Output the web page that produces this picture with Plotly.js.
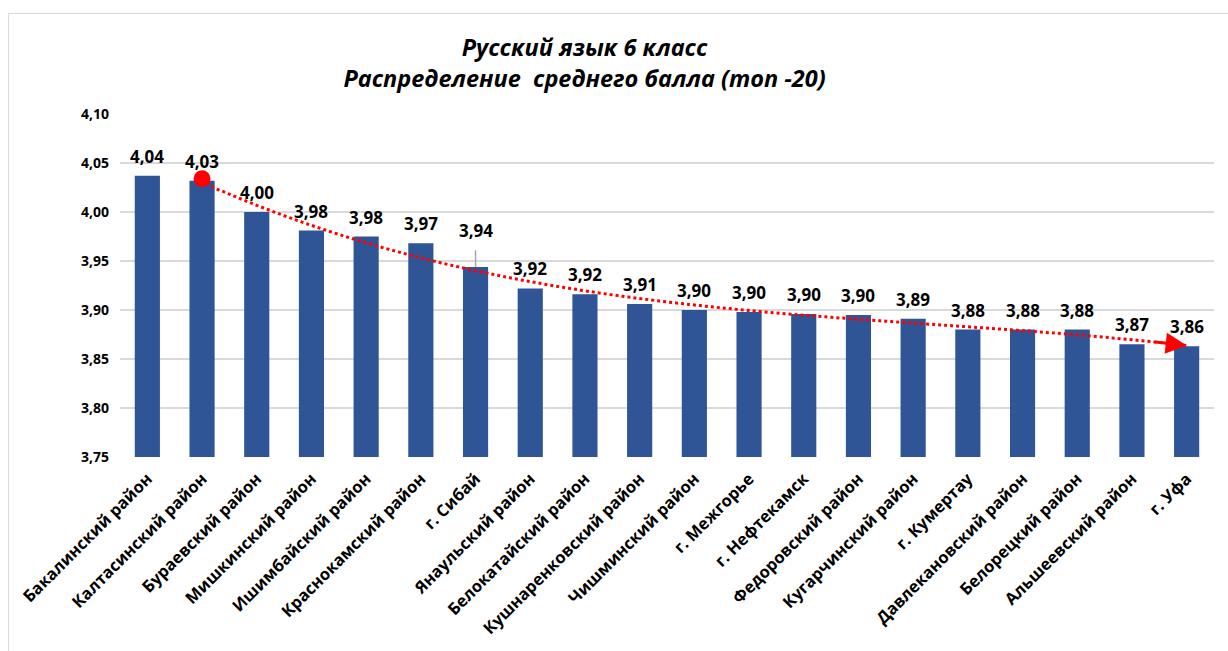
<!DOCTYPE html>
<html>
<head>
<meta charset="utf-8">
<script src="https://cdn.plot.ly/plotly-3.0.1.min.js"></script>
<style>html,body{margin:0;padding:0;background:#fff;}#wrap{position:relative;width:1228px;height:651px;overflow:hidden;}#chart{width:1228px;height:651px;}#frame{position:absolute;left:8px;top:13px;width:1240px;height:660px;border-top:1.5px solid #D9D9D9;border-left:1.5px solid #D9D9D9;pointer-events:none;}</style>
</head>
<body>
<div id="wrap"><div id="chart"></div><div id="frame"></div></div>
<script>
const categories = ["Бакалинский район","Калтасинский район","Бураевский район","Мишкинский район","Ишимбайский район","Краснокамский район","г. Сибай","Янаульский район","Белокатайский район","Кушнаренковский район","Чишминский район","г. Межгорье","г. Нефтекамск","Федоровский район","Кугарчинский район","г. Кумертау","Давлекановский район","Белорецкий район","Альшеевский район","г. Уфа"];
const scores = [4.037,4.032,4.000,3.981,3.975,3.968,3.944,3.922,3.916,3.906,3.900,3.898,3.896,3.895,3.891,3.880,3.880,3.880,3.865,3.863];
const errPlus = [0,0,0,0,0,0,0.017,0,0,0,0,0,0,0,0,0,0,0,0,0];
const titleLines = ["Русский язык 6 класс","Распределение  среднего балла (топ -20)"];
const yTicks = [3.75,3.80,3.85,3.90,3.95,4.00,4.05,4.10];

// Cubic trend fitted over bars 2..20
const tIdx = [], tVal = [];
for (let i = 1; i < scores.length; i++) { tIdx.push(i); tVal.push(scores[i]); }
function polyfit(xs, ys, deg) {
  const n = deg + 1;
  const A = Array.from({length:n}, () => new Array(n).fill(0));
  const b = new Array(n).fill(0);
  for (let k = 0; k < xs.length; k++) {
    for (let i = 0; i < n; i++) {
      b[i] += ys[k] * Math.pow(xs[k], i);
      for (let j = 0; j < n; j++) A[i][j] += Math.pow(xs[k], i + j);
    }
  }
  for (let i = 0; i < n; i++) {
    let p = i;
    for (let r = i + 1; r < n; r++) if (Math.abs(A[r][i]) > Math.abs(A[p][i])) p = r;
    [A[i], A[p]] = [A[p], A[i]]; [b[i], b[p]] = [b[p], b[i]];
    for (let r = i + 1; r < n; r++) {
      const f = A[r][i] / A[i][i];
      for (let c = i; c < n; c++) A[r][c] -= f * A[i][c];
      b[r] -= f * b[i];
    }
  }
  const c = new Array(n).fill(0);
  for (let i = n - 1; i >= 0; i--) {
    let s = b[i];
    for (let j = i + 1; j < n; j++) s -= A[i][j] * c[j];
    c[i] = s / A[i][i];
  }
  return c;
}
const coef = polyfit(tIdx, tVal, 3);
const evalFit = x => coef.reduce((s, c, i) => s + c * Math.pow(x, i), 0);
const trendX = [], trendY = [];
const first = 1, last = scores.length - 1;
for (let k = 0; k <= 90; k++) {
  const x = first + k * (last - first) / 90;
  trendX.push(x);
  trendY.push(evalFit(x));
}
trendY[0] = scores[first] + 0.002;
trendY[trendY.length - 1] = Math.min(trendY[trendY.length - 1], scores[last] + 0.001);

const idx = categories.map((c,i)=>i);
const bars = {
  type: 'bar',
  x: idx,
  y: scores,
  marker: {color: '#2F5597'},
  error_y: {type: 'data', symmetric: false, array: errPlus, arrayminus: errPlus.map(()=>0), color: '#A6A6A6', thickness: 1.5, width: 0},
  hoverinfo: 'none'
};
const trend = {
  type: 'scatter',
  mode: 'lines',
  x: trendX,
  y: trendY,
  line: {color: '#FF0000', width: 3, dash: 'dot', shape: 'spline'},
  cliponaxis: false,
  hoverinfo: 'none'
};
const startDot = {
  type: 'scatter',
  mode: 'markers',
  x: [trendX[0]],
  y: [trendY[0]],
  marker: {color: '#FF0000', size: 17, symbol: 'circle'},
  cliponaxis: false,
  hoverinfo: 'none'
};
const nT = trendX.length;

const valueLabels = scores.map((v, i) => ({
  x: i, y: v + errPlus[i], xref: 'x', yref: 'y',
  text: '<b>' + v.toFixed(2).replace('.', ',') + '</b>',
  showarrow: false, yanchor: 'bottom', xanchor: 'center', yshift: 6,
  font: {family: 'Open Sans, sans-serif', size: 17, color: '#000'}
}));

const layout = {
  width: 1228, height: 651,
  margin: {l: 120, r: 14, t: 114, b: 194},
  paper_bgcolor: '#fff', plot_bgcolor: '#fff',
  separators: ', ',
  showlegend: false,
  bargap: 0.54,
  title: {
    text: '<b><i>' + titleLines.join('<br>') + '</i></b>',
    xref: 'container', x: 0.476, xanchor: 'center',
    yref: 'container', y: 0.914, yanchor: 'top',
    font: {family: 'Open Sans, sans-serif', size: 23.5, color: '#000'}
  },
  xaxis: {
    type: 'linear',
    range: [-0.5, categories.length - 0.5],
    tickmode: 'array',
    tickvals: idx,
    ticktext: categories,
    tickangle: -45,
    tickfont: {family: 'Open Sans, sans-serif', size: 16.5, color: '#000', weight: 'bold'},
    showgrid: false, zeroline: false, showline: false, ticks: '',
    ticklabelstandoff: 8
  },
  yaxis: {
    range: [3.75, 4.10],
    tickmode: 'array',
    tickvals: yTicks,
    tickformat: '.2f',
    tickfont: {family: 'Open Sans, sans-serif', size: 14, color: '#000', weight: 'bold'},
    showgrid: true, gridcolor: '#D9D9D9', gridwidth: 1.3,
    zeroline: false, showline: false, ticks: '',
    ticklabelstandoff: 10
  },
  annotations: valueLabels.concat([{
    x: trendX[nT-1], y: trendY[nT-1], xref: 'x', yref: 'y',
    ax: trendX[nT-4], ay: trendY[nT-4], axref: 'x', ayref: 'y',
    text: '', showarrow: true, arrowhead: 2, arrowsize: 1.4, arrowwidth: 3,
    arrowcolor: '#FF0000', standoff: 0
  }])
};
Plotly.newPlot('chart', [bars, trend, startDot], layout, {staticPlot: true});
</script>
</body>
</html>
